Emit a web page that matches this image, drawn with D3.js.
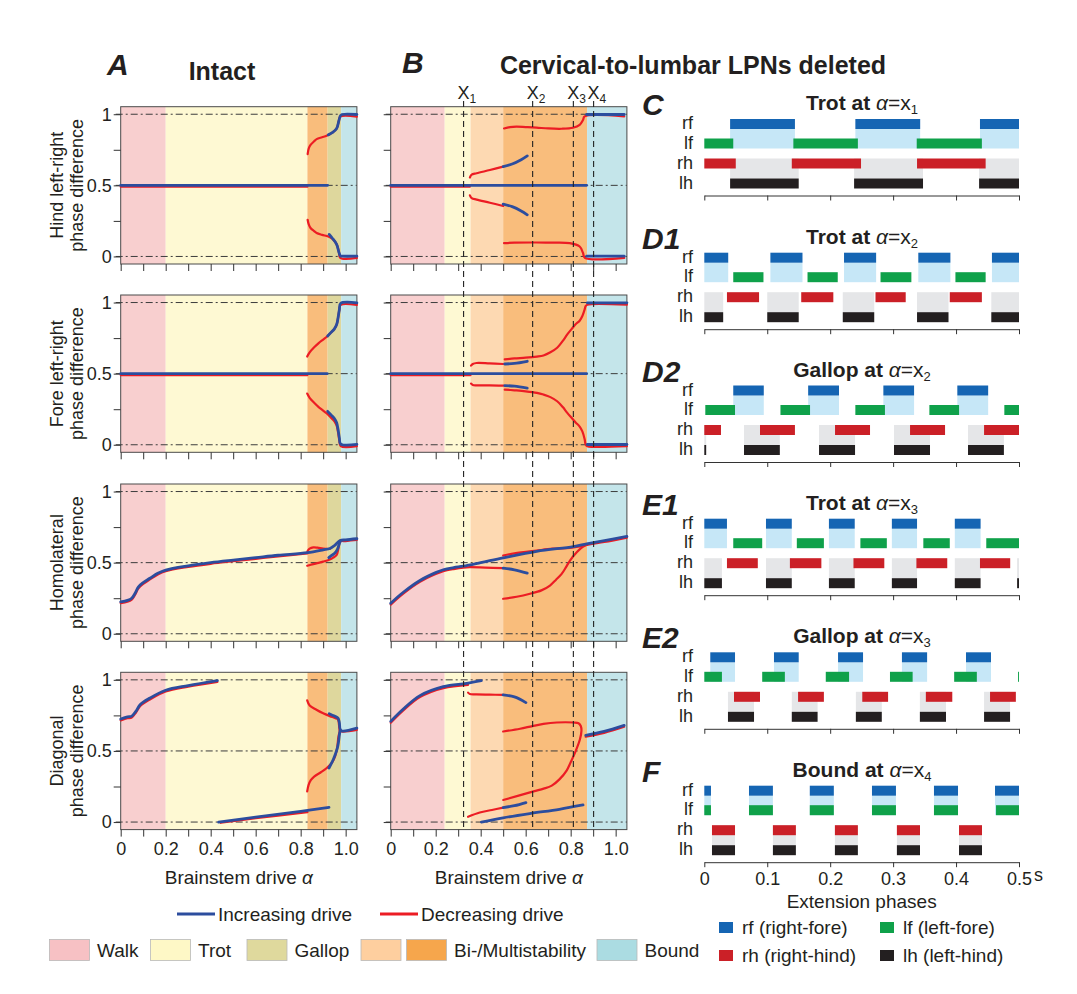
<!DOCTYPE html>
<html>
<head>
<meta charset="utf-8">
<script src="https://cdnjs.cloudflare.com/ajax/libs/d3/7.8.5/d3.min.js"></script>
<style>
  body { margin: 0; background: #fff; }
  svg text { font-family: "Liberation Sans", Arial, sans-serif; fill: #231f20; }
</style>
</head>
<body>
<svg id="fig" width="1077" height="994"></svg>
<script>
// ---- regime bands (drive alpha ranges) ----
const bandsA = [[0, 0.2, "walk"], [0.2, 0.83, "trot"], [0.83, 0.92, "multi"], [0.92, 0.98, "gallop"], [0.98, 1.05, "bound"]];
const bandsB = [[0, 0.24, "walk"], [0.24, 0.355, "trot"], [0.355, 0.5, "bi"], [0.5, 0.873, "multi"], [0.873, 1.05, "bound"]];
const xMarks = [0.324, 0.631, 0.812, 0.902];   // x1..x4
const xTicks = [0, 0.1, 0.2, 0.3, 0.4, 0.5, 0.6, 0.7, 0.8, 0.9, 1.0];
const yTicks = [0, 0.25, 0.5, 0.75, 1];
const rowLabels = [["Hind left-right", "phase difference"], ["Fore left-right", "phase difference"],
                   ["Homolateral", "phase difference"], ["Diagonal", "phase difference"]];

// ---- panel A curves (segments of [alpha, phase]) ----
const A1_inc = [
  [[0, 0.5], [0.92, 0.5]],
  [[0.923, 0.855], [0.94, 0.87], [0.96, 0.9], [0.97, 0.955], [0.977, 0.99], [0.985, 0.998], [1.05, 0.998]],
  [[0.927, 0.155], [0.94, 0.13], [0.96, 0.085], [0.97, 0.03], [0.977, 0.003], [0.985, 0.002], [1.05, 0.002]]
];
const A1_dec = [
  [[0, 0.49], [0.83, 0.49]],
  [[0.831, 0.72], [0.836, 0.76], [0.844, 0.784], [0.86, 0.81], [0.871, 0.825], [0.895, 0.838], [0.915, 0.848], [0.94, 0.87], [0.96, 0.9], [0.97, 0.955], [0.976, 0.983], [1.05, 0.983]],
  [[0.831, 0.258], [0.836, 0.225], [0.844, 0.2], [0.86, 0.178], [0.871, 0.165], [0.895, 0.152], [0.923, 0.14], [0.94, 0.125], [0.96, 0.085], [0.97, 0.03], [0.976, -0.01], [1.05, -0.01]]
];
const A2_inc = [
  [[0, 0.5], [0.918, 0.5]],
  [[0.92, 0.765], [0.935, 0.79], [0.95, 0.815], [0.96, 0.845], [0.966, 0.89], [0.972, 0.95], [0.978, 0.995], [1.05, 0.998]],
  [[0.92, 0.235], [0.935, 0.21], [0.95, 0.185], [0.96, 0.155], [0.966, 0.11], [0.972, 0.05], [0.978, 0.005], [1.05, 0.002]]
];
const A2_dec = [
  [[0, 0.49], [0.83, 0.49]],
  [[0.829, 0.62], [0.84, 0.65], [0.86, 0.685], [0.88, 0.715], [0.9, 0.74], [0.92, 0.765], [0.935, 0.79], [0.95, 0.815], [0.96, 0.845], [0.966, 0.89], [0.972, 0.95], [0.978, 0.983], [1.05, 0.983]],
  [[0.829, 0.36], [0.84, 0.33], [0.86, 0.295], [0.88, 0.265], [0.9, 0.24], [0.92, 0.215], [0.935, 0.19], [0.95, 0.165], [0.96, 0.135], [0.966, 0.09], [0.972, 0.03], [0.978, -0.01], [1.05, -0.01]]
];
const A3_inc = [
  [[0, 0.225], [0.03, 0.235], [0.049, 0.25], [0.064, 0.285], [0.079, 0.33], [0.1, 0.36], [0.13, 0.39], [0.165, 0.425], [0.2, 0.448], [0.3, 0.478], [0.4, 0.5], [0.5, 0.518], [0.6, 0.535], [0.7, 0.552], [0.83, 0.57], [0.9, 0.59], [0.93, 0.6], [0.95, 0.62], [0.975, 0.655], [1.0, 0.66], [1.05, 0.668]],
  [[0.925, 0.535], [0.935, 0.548], [0.95, 0.565], [0.962, 0.59], [0.975, 0.65]]
];
const A3_dec = [
  [[0, 0.215], [0.03, 0.225], [0.049, 0.24], [0.064, 0.275], [0.079, 0.32], [0.1, 0.35], [0.13, 0.382], [0.165, 0.417], [0.2, 0.44], [0.3, 0.47], [0.4, 0.492], [0.5, 0.51], [0.6, 0.527], [0.7, 0.544], [0.83, 0.565]],
  [[0.83, 0.58], [0.84, 0.598], [0.856, 0.607], [0.875, 0.605], [0.9, 0.598], [0.93, 0.596]],
  [[0.829, 0.478], [0.845, 0.485], [0.87, 0.495], [0.9, 0.507], [0.927, 0.52], [0.945, 0.535], [0.96, 0.555], [0.968, 0.6], [0.975, 0.648], [1.0, 0.652], [1.05, 0.66]]
];
const A4_inc = [
  [[0, 0.725], [0.03, 0.74], [0.049, 0.745], [0.068, 0.78], [0.086, 0.825], [0.13, 0.872], [0.2, 0.927], [0.3, 0.96], [0.43, 0.995]],
  [[0.435, 0.0], [0.6, 0.035], [0.8, 0.075], [0.926, 0.103]],
  [[0.927, 0.762], [0.95, 0.745], [0.966, 0.73], [0.972, 0.7], [0.976, 0.65], [0.985, 0.64], [1.05, 0.66]],
  [[0.926, 0.38], [0.945, 0.44], [0.955, 0.48], [0.963, 0.52], [0.968, 0.56], [0.972, 0.61], [0.976, 0.65]]
];
const A4_dec = [
  [[0, 0.715], [0.03, 0.73], [0.049, 0.735], [0.068, 0.77], [0.086, 0.815], [0.13, 0.862], [0.2, 0.918], [0.3, 0.952], [0.43, 0.985]],
  [[0.445, -0.005], [0.6, 0.027], [0.83, 0.07]],
  [[0.829, 0.856], [0.84, 0.82], [0.87, 0.79], [0.9, 0.765], [0.93, 0.745], [0.955, 0.73], [0.966, 0.72], [0.972, 0.66], [0.975, 0.64], [1.05, 0.648]],
  [[0.829, 0.216], [0.835, 0.26], [0.845, 0.295], [0.86, 0.32], [0.89, 0.35], [0.916, 0.38], [0.94, 0.42], [0.953, 0.462], [0.962, 0.52], [0.968, 0.6], [0.975, 0.645]]
];

// ---- panel B curves ----
const B1_inc = [
  [[0, 0.5], [0.871, 0.5]],
  [[0.5, 0.632], [0.54, 0.65], [0.58, 0.68], [0.607, 0.707]],
  [[0.5, 0.368], [0.54, 0.35], [0.58, 0.32], [0.607, 0.293]],
  [[0.871, 0.998], [1.038, 0.998]],
  [[0.871, 0.002], [1.038, 0.002]]
];
const B1_dec = [
  [[0, 0.49], [0.352, 0.49]],
  [[0.352, 0.555], [0.36, 0.575], [0.382, 0.585], [0.441, 0.608], [0.5, 0.632]],
  [[0.352, 0.43], [0.36, 0.41], [0.382, 0.4], [0.441, 0.378], [0.5, 0.355]],
  [[0.504, 0.9], [0.53, 0.91], [0.559, 0.913], [0.6, 0.91], [0.648, 0.906], [0.7, 0.9], [0.76, 0.898], [0.81, 0.905], [0.84, 0.925], [0.855, 0.96], [0.862, 0.985], [1.038, 0.985]],
  [[0.504, 0.094], [0.55, 0.097], [0.648, 0.098], [0.7, 0.097], [0.796, 0.094], [0.84, 0.07], [0.855, 0.024], [0.863, -0.01], [1.038, -0.01]]
];
const B2_inc = [
  [[0, 0.5], [0.871, 0.5]],
  [[0.507, 0.568], [0.55, 0.572], [0.607, 0.587]],
  [[0.507, 0.416], [0.55, 0.412], [0.607, 0.399]],
  [[0.874, 0.998], [1.05, 0.998]],
  [[0.874, 0.002], [1.05, 0.002]]
];
const B2_dec = [
  [[0, 0.49], [0.355, 0.49]],
  [[0.357, 0.556], [0.365, 0.568], [0.382, 0.575], [0.44, 0.572], [0.5, 0.568]],
  [[0.357, 0.43], [0.365, 0.42], [0.382, 0.418], [0.44, 0.418], [0.5, 0.416]],
  [[0.507, 0.6], [0.55, 0.607], [0.6, 0.612], [0.65, 0.62], [0.679, 0.628], [0.71, 0.65], [0.74, 0.682], [0.765, 0.73], [0.785, 0.776], [0.805, 0.815], [0.822, 0.847], [0.84, 0.872], [0.852, 0.905], [0.862, 0.95], [0.867, 0.976], [0.874, 0.985], [1.05, 0.985]],
  [[0.507, 0.388], [0.55, 0.383], [0.6, 0.376], [0.65, 0.365], [0.679, 0.353], [0.71, 0.335], [0.74, 0.306], [0.765, 0.265], [0.785, 0.224], [0.805, 0.188], [0.822, 0.157], [0.84, 0.128], [0.852, 0.094], [0.862, 0.04], [0.867, 0.0], [0.874, -0.01], [1.05, -0.01]]
];
const B3_inc = [
  [[0, 0.215], [0.056, 0.292], [0.13, 0.375], [0.2, 0.43], [0.234, 0.45], [0.28, 0.465], [0.323, 0.475], [0.4, 0.5], [0.5, 0.534], [0.649, 0.58], [0.812, 0.613], [0.871, 0.632], [0.95, 0.655], [1.05, 0.684]],
  [[0.5, 0.461], [0.55, 0.45], [0.607, 0.426]]
];
const B3_dec = [
  [[0, 0.205], [0.056, 0.282], [0.13, 0.365], [0.2, 0.42], [0.234, 0.44], [0.28, 0.455], [0.323, 0.465], [0.352, 0.468], [0.42, 0.465], [0.5, 0.461]],
  [[0.5, 0.55], [0.55, 0.565], [0.649, 0.585], [0.72, 0.598], [0.797, 0.604], [0.84, 0.615], [0.871, 0.625]],
  [[0.5, 0.246], [0.56, 0.26], [0.619, 0.281], [0.67, 0.305], [0.708, 0.339], [0.735, 0.38], [0.76, 0.421], [0.78, 0.47], [0.797, 0.515], [0.827, 0.573], [0.845, 0.6], [0.864, 0.62], [0.875, 0.628]],
  [[0.871, 0.625], [0.95, 0.645], [1.05, 0.676]]
];
const B4_inc = [
  [[0, 0.708], [0.056, 0.795], [0.13, 0.889], [0.234, 0.952], [0.337, 0.975], [0.403, 0.994]],
  [[0.5, 0.894], [0.55, 0.88], [0.601, 0.84]],
  [[0.5, 0.102], [0.55, 0.115], [0.601, 0.137]],
  [[0.403, 0.0], [0.5, 0.03], [0.618, 0.06], [0.75, 0.09], [0.855, 0.12]],
  [[0.867, 0.609], [0.949, 0.637], [1.038, 0.68]]
];
const B4_dec = [
  [[0, 0.698], [0.056, 0.785], [0.13, 0.879], [0.234, 0.942], [0.344, 0.965]],
  [[0.344, 0.91], [0.352, 0.9], [0.381, 0.898], [0.44, 0.896], [0.5, 0.894]],
  [[0.5, 0.637], [0.575, 0.656], [0.63, 0.675], [0.679, 0.69], [0.738, 0.7], [0.812, 0.7], [0.835, 0.695], [0.845, 0.675], [0.848, 0.643], [0.841, 0.58], [0.819, 0.486], [0.8, 0.42], [0.782, 0.362], [0.75, 0.3], [0.716, 0.256], [0.68, 0.235], [0.635, 0.216], [0.5, 0.155]],
  [[0.344, 0.037], [0.396, 0.067], [0.45, 0.085], [0.5, 0.102]],
  [[0.867, 0.6], [0.949, 0.627], [1.038, 0.67]]
];

// ---- gait diagrams: extension intervals (s) for [rf, lf, rh, lh] ----
const limbs = ["rf", "lf", "rh", "lh"];
const trotX1 = [
  [[0.041, 0.144], [0.24, 0.343], [0.438, 0.5]],
  [[0, 0.046], [0.1415, 0.244], [0.3375, 0.441]],
  [[0, 0.05], [0.139, 0.249], [0.338, 0.447]],
  [[0.041, 0.15], [0.238, 0.3475], [0.4366, 0.5]]
];
const trotX2 = [
  [[0, 0.038], [0.105, 0.156], [0.222, 0.273], [0.34, 0.391], [0.457, 0.5]],
  [[0.046, 0.094], [0.164, 0.212], [0.28, 0.329], [0.399, 0.447]],
  [[0.036, 0.087], [0.154, 0.205], [0.272, 0.32], [0.39, 0.441]],
  [[0, 0.03], [0.1, 0.15], [0.22, 0.27], [0.338, 0.388], [0.456, 0.5]]
];
const gallopX2 = [
  [[0.046, 0.0945], [0.165, 0.214], [0.2845, 0.3333], [0.402, 0.451]],
  [[0.0016, 0.0488], [0.121, 0.168], [0.24, 0.287], [0.3576, 0.4048], [0.4767, 0.5]],
  [[0, 0.0265], [0.0885, 0.144], [0.2077, 0.2633], [0.3269, 0.3825], [0.4445, 0.5]],
  [[0, 0.003], [0.0631, 0.12], [0.1823, 0.2395], [0.3014, 0.3586], [0.419, 0.476]]
];
const trotX3 = [
  [[0, 0.036], [0.098, 0.139], [0.198, 0.239], [0.298, 0.338], [0.398, 0.439]],
  [[0.046, 0.092], [0.147, 0.19], [0.248, 0.29], [0.348, 0.39], [0.448, 0.5]],
  [[0.036, 0.085], [0.136, 0.186], [0.237, 0.286], [0.337, 0.386], [0.438, 0.486]],
  [[0, 0.028], [0.098, 0.139], [0.198, 0.239], [0.298, 0.338], [0.398, 0.439], [0.497, 0.5]]
];
const gallopX3 = [
  [[0.0095, 0.0488], [0.1107, 0.15], [0.2125, 0.2522], [0.314, 0.354], [0.4158, 0.4555]],
  [[0, 0.028], [0.092, 0.128], [0.193, 0.23], [0.295, 0.331], [0.397, 0.433], [0.4985, 0.5]],
  [[0.0472, 0.0885], [0.149, 0.19], [0.251, 0.292], [0.352, 0.394], [0.454, 0.495]],
  [[0.0376, 0.079], [0.139, 0.18], [0.2408, 0.282], [0.3425, 0.384], [0.4445, 0.4858]]
];
const boundX4 = [
  [[0, 0.0106], [0.071, 0.109], [0.1676, 0.2058], [0.2664, 0.3045], [0.3649, 0.4031], [0.4619, 0.5]],
  [[0, 0.0106], [0.071, 0.109], [0.1676, 0.2058], [0.2664, 0.3045], [0.3649, 0.4031], [0.4635, 0.5]],
  [[0.0122, 0.0488], [0.109, 0.1455], [0.2075, 0.244], [0.306, 0.3427], [0.4047, 0.4412]],
  [[0.0122, 0.0488], [0.109, 0.1455], [0.2075, 0.244], [0.306, 0.3427], [0.4047, 0.4412]]
];
const gaitTicks = [0, 0.1, 0.2, 0.3, 0.4, 0.5];

// ---- styles ----
const bandColor = { walk: "#f8cfcf", trot: "#fef9d3", gallop: "#ded79d", bi: "#fdd9b2", multi: "#f9bd7c", bound: "#c4e5ea" };
const legendColor = { walk: "#f7c1c4", trot: "#fef8c6", gallop: "#dfd99d", bi: "#fecf9f", multi: "#f6a64c", bound: "#abdce2" };
const incColor = "#2c4d9e", decColor = "#ec1c24";
const limbColor = ["#1565b3", "#0fa14a", "#cb2027", "#231f20"];

const svg = d3.select("#fig");
const rowTops = [106.7, 295, 484, 672.3];
const rowH = 157.3;
const xA = d3.scaleLinear().domain([0, 1.05]).range([120.7, 356.9]);
const xB = d3.scaleLinear().domain([0, 1.05]).range([390.7, 626.9]);
const dataA = [[A1_inc, A1_dec], [A2_inc, A2_dec], [A3_inc, A3_dec], [A4_inc, A4_dec]];
const dataB = [[B1_inc, B1_dec], [B2_inc, B2_dec], [B3_inc, B3_dec], [B4_inc, B4_dec]];

function drawPlot(x, top, bands, data, withLabels, lastRow) {
  const y = d3.scaleLinear().domain([-0.053, 1.053]).range([top + rowH, top]);
  const g = svg.append("g");
  const [x0, x1] = x.range();
  g.selectAll("rect.band").data(bands).join("rect")
    .attr("x", d => x(d[0])).attr("width", d => x(d[1]) - x(d[0]))
    .attr("y", top).attr("height", rowH)
    .attr("fill", d => bandColor[d[2]]);
  g.selectAll("line.ref").data([0, 0.5, 1]).join("line")
    .attr("x1", x0 - 5).attr("x2", x1).attr("y1", d => y(d)).attr("y2", d => y(d))
    .attr("stroke", "#3c3c3c").attr("stroke-width", 1).attr("stroke-dasharray", "7,3,2,3");
  g.append("rect").attr("x", x0).attr("y", top).attr("width", x1 - x0).attr("height", rowH)
    .attr("fill", "none").attr("stroke", "#4a4a4a").attr("stroke-width", 1);

  const ya = g.append("g").attr("transform", `translate(${x0},0)`)
    .call(d3.axisLeft(y).tickValues(yTicks).tickSize(7).tickPadding(2)
      .tickFormat(d => withLabels ? ({ 0: "0", 0.5: "0.5", 1: "1" })[d] || "" : ""));
  const xa = g.append("g").attr("transform", `translate(0,${top + rowH})`)
    .call(d3.axisBottom(x).tickValues(xTicks).tickSize(7).tickPadding(6)
      .tickFormat((d, i) => lastRow && i % 2 === 0 ? (i === 0 ? "0" : d.toFixed(1)) : ""));
  [ya, xa].forEach(a => {
    a.select(".domain").remove();
    a.selectAll(".tick line").attr("stroke", "#333");
    a.selectAll("text").attr("font-size", 18).attr("fill", "#231f20");
  });

  const line = d3.line().x(d => x(d[0])).y(d => y(d[1])).curve(d3.curveCatmullRom.alpha(0.5));
  const [inc, dec] = data;
  g.selectAll("path.dec").data(dec).join("path").attr("class", "dec")
    .attr("d", line).attr("fill", "none").attr("stroke", decColor).attr("stroke-width", 2.2)
    .attr("stroke-linecap", "round");
  g.selectAll("path.inc").data(inc).join("path").attr("class", "inc")
    .attr("d", line).attr("fill", "none").attr("stroke", incColor).attr("stroke-width", 2.8)
    .attr("stroke-linecap", "round");
}

rowTops.forEach((top, i) => {
  drawPlot(xA, top, bandsA, dataA[i], true, i === 3);
  drawPlot(xB, top, bandsB, dataB[i], false, i === 3);
  const cy = top + rowH / 2;
  rowLabels[i].forEach((t, k) => {
    svg.append("text").attr("transform", `translate(${63 + k * 20},${cy}) rotate(-90)`)
      .attr("text-anchor", "middle").attr("font-size", 18).text(t);
  });
});

// x axis titles
[xA, xB].forEach(x => {
  const t = svg.append("text").attr("x", (x(0) + x(1.05)) / 2).attr("y", 884)
    .attr("text-anchor", "middle").attr("font-size", 19);
  t.append("tspan").text("Brainstem drive ");
  t.append("tspan").attr("font-style", "italic").text("α");
});

// x1..x4 dashed markers across panel B
xMarks.forEach((m, i) => {
  svg.append("line").attr("x1", xB(m)).attr("x2", xB(m)).attr("y1", 101).attr("y2", 830)
    .attr("stroke", "#222").attr("stroke-width", 1.1).attr("stroke-dasharray", "6,4");
  svg.append("text").attr("x", xB(m)).attr("y", 99).attr("text-anchor", "middle")
    .attr("font-size", 18).text("X");
  svg.append("text").attr("x", xB(m) + 6).attr("y", 103).attr("font-size", 12).text(i + 1);
});

// headings
function letter(x, y, t) {
  svg.append("text").attr("x", x).attr("y", y).attr("font-size", 30)
    .attr("font-weight", "bold").attr("font-style", "italic").text(t);
}
letter(107, 75, "A");
letter(402, 73, "B");
svg.append("text").attr("x", 222).attr("y", 80).attr("text-anchor", "middle")
  .attr("font-size", 25).attr("font-weight", "bold").text("Intact");
svg.append("text").attr("x", 693).attr("y", 74).attr("text-anchor", "middle")
  .attr("font-size", 25).attr("font-weight", "bold").text("Cervical-to-lumbar LPNs deleted");

// ---- gait diagrams ----
const xg = d3.scaleLinear().domain([0, 0.5]).range([704.3, 1019]);
const gaitPanels = [
  { letter: "C", gait: "Trot", at: "1", top: 119, data: trotX1 },
  { letter: "D1", gait: "Trot", at: "2", top: 252.7, data: trotX2 },
  { letter: "D2", gait: "Gallop", at: "2", top: 385.5, data: gallopX2 },
  { letter: "E1", gait: "Trot", at: "3", top: 518.7, data: trotX3 },
  { letter: "E2", gait: "Gallop", at: "3", top: 652.3, data: gallopX3 },
  { letter: "F", gait: "Bound", at: "4", top: 785.7, data: boundX4 }
];
const rowOff = [0, 19.5, 39.5, 59.5], barH = 10;

gaitPanels.forEach((p, pi) => {
  const g = svg.append("g");
  const top = p.top;
  // light blue under rf, grey above lh
  g.selectAll("rect.rfs").data(p.data[0]).join("rect")
    .attr("x", d => xg(d[0])).attr("width", d => xg(d[1]) - xg(d[0]))
    .attr("y", top + barH).attr("height", rowOff[1])
    .attr("fill", "#c6e7f7");
  g.selectAll("rect.lhs").data(p.data[3]).join("rect")
    .attr("x", d => xg(d[0])).attr("width", d => xg(d[1]) - xg(d[0]))
    .attr("y", top + rowOff[2]).attr("height", rowOff[3] - rowOff[2])
    .attr("fill", "#e5e6e8");
  limbs.forEach((l, k) => {
    g.selectAll(`rect.${l}`).data(p.data[k]).join("rect").attr("class", l)
      .attr("x", d => xg(d[0])).attr("width", d => xg(d[1]) - xg(d[0]))
      .attr("y", top + rowOff[k]).attr("height", barH)
      .attr("fill", limbColor[k]);
    g.append("text").attr("x", 693).attr("y", top + rowOff[k] + 10)
      .attr("text-anchor", "end").attr("font-size", 18).text(l);
  });
  const last = pi === gaitPanels.length - 1;
  const ax = g.append("g").attr("transform", `translate(0,${top + 76.5})`)
    .call(d3.axisBottom(xg).tickValues(gaitTicks).tickSize(5).tickSizeOuter(0).tickPadding(5)
      .tickFormat((d, i) => last ? (i === 0 ? "0" : d.toFixed(1)) : ""));
  ax.select(".domain").attr("stroke", "#333");
  ax.selectAll(".tick line").attr("stroke", "#333");
  ax.selectAll("text").attr("font-size", 18).attr("fill", "#231f20");
  if (last) {
    g.append("text").attr("x", xg(0.5) + 15).attr("y", top + 76.5 + 19).attr("font-size", 18).text("s");
  }
  // title
  const t = g.append("text").attr("x", 862).attr("y", top - 9).attr("text-anchor", "middle")
    .attr("font-size", 21);
  t.append("tspan").attr("font-weight", "bold").text(p.gait + " at ");
  t.append("tspan").attr("font-style", "italic").text("α");
  t.append("tspan").text("=x");
  t.append("tspan").attr("font-size", 13).attr("dy", 4).text(p.at);
  letter(642, top - 4, p.letter);
});

// ---- legends ----
svg.append("text").attr("x", xg(0.25)).attr("y", 908).attr("text-anchor", "middle")
  .attr("font-size", 19).text("Extension phases");
const limbLegend = [["rf (right-fore)", 719, 922], ["lf (left-fore)", 880, 922], ["rh (right-hind)", 719, 950], ["lh (left-hind)", 880, 950]];
limbLegend.forEach((d, k) => {
  svg.append("rect").attr("x", d[1]).attr("y", d[2]).attr("width", 14).attr("height", 11).attr("fill", limbColor[k]);
  svg.append("text").attr("x", d[1] + 23).attr("y", d[2] + 12).attr("font-size", 19).text(d[0]);
});

const lineLegend = [["Increasing drive", incColor, 177], ["Decreasing drive", decColor, 380]];
lineLegend.forEach(d => {
  svg.append("line").attr("x1", d[2]).attr("x2", d[2] + 38).attr("y1", 914).attr("y2", 914)
    .attr("stroke", d[1]).attr("stroke-width", 3);
  svg.append("text").attr("x", d[2] + 41).attr("y", 921).attr("font-size", 19).text(d[0]);
});

const regimeLegend = [["Walk", ["walk"], 49.5], ["Trot", ["trot"], 150.5], ["Gallop", ["gallop"], 247],
                      ["Bi-/Multistability", ["bi", "multi"], 361], ["Bound", ["bound"], 597]];
regimeLegend.forEach(d => {
  d[1].forEach((c, k) => {
    svg.append("rect").attr("x", d[2] + k * 45.5).attr("y", 939.5).attr("width", 40).attr("height", 21)
      .attr("fill", legendColor[c]).attr("stroke", "#b8b8b8").attr("stroke-width", 0.8);
  });
  svg.append("text").attr("x", d[2] + d[1].length * 45.5 + 2).attr("y", 957).attr("font-size", 19).text(d[0]);
});
</script>
</body>
</html>
